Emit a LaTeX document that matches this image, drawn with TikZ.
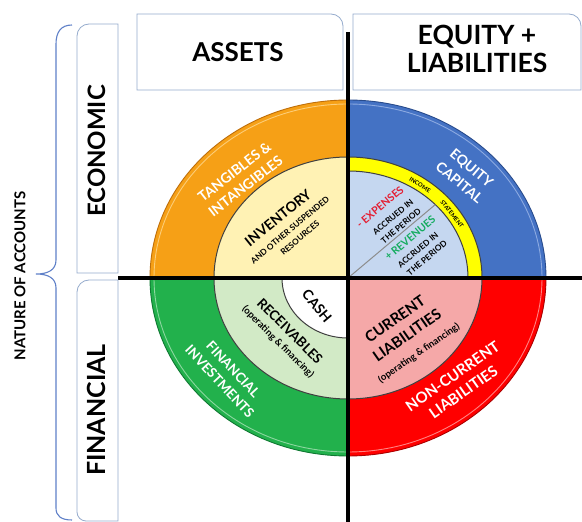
\documentclass[tikz,border=0pt]{standalone}
\usepackage{fontspec}
\setmainfont{Lato}
\definecolor{cOrange}{RGB}{246,160,22}
\definecolor{cOrangeD}{RGB}{190,110,10}
\definecolor{cOrangeL}{RGB}{252,205,120}
\definecolor{cBlue}{RGB}{68,114,196}
\definecolor{cBlueD}{RGB}{40,75,140}
\definecolor{cBlueL}{RGB}{140,170,225}
\definecolor{cGreen}{RGB}{34,177,76}
\definecolor{cGreenD}{RGB}{15,120,50}
\definecolor{cGreenL}{RGB}{140,215,160}
\definecolor{cRed}{RGB}{255,0,0}
\definecolor{cRedD}{RGB}{170,0,0}
\definecolor{cRedL}{RGB}{255,130,130}
\definecolor{cLYellow}{RGB}{255,242,180}
\definecolor{cYellow}{RGB}{255,255,0}
\definecolor{cLBlue}{RGB}{197,215,240}
\definecolor{cLGreen}{RGB}{210,234,198}
\definecolor{cPink}{RGB}{245,168,168}
\definecolor{cExp}{RGB}{228,30,50}
\definecolor{cRev}{RGB}{20,172,95}
\definecolor{cBox}{RGB}{150,172,205}
\definecolor{cBrace}{RGB}{95,128,200}
\newcommand{\fsz}[2]{\fontsize{#1}{#2}\selectfont\bfseries}
\begin{document}
\begin{tikzpicture}[x=1pt,y=1pt,
  lbl/.style={inner sep=0pt,align=center},
  wt/.style={lbl,text=white},
  bk/.style={lbl,text=black},
  hdrbox/.style={draw=cBox,line width=0.8pt,fill=white},
  crossline/.style={line width=4pt,black},
  ringedge/.style={line width=0.9pt},
  inneredge/.style={draw=black!75,line width=1pt}]
\fill[white] (0,0) rectangle (582,522);
\useasboundingbox (0,0) rectangle (582,522);
\coordinate (C) at (348,244);
% ---- outer quadrants
\fill[cOrange] (C) -- (150,244) arc[start angle=180,end angle=90,x radius=198,y radius=178] -- cycle;
\fill[cBlue] (C) -- (348,422) arc[start angle=90,end angle=0,x radius=198,y radius=178] -- cycle;
\fill[cGreen] (C) -- (150,244) arc[start angle=180,end angle=270,x radius=198,y radius=178] -- cycle;
\fill[cRed] (C) -- (546,244) arc[start angle=0,end angle=-90,x radius=198,y radius=178] -- cycle;
% edges and highlights
\draw[ringedge,cOrangeD] (150,244) arc[start angle=180,end angle=90,x radius=198,y radius=178];
\draw[ringedge,cBlueD] (348,422) arc[start angle=90,end angle=0,x radius=198,y radius=178];
\draw[ringedge,cGreenD] (150,244) arc[start angle=180,end angle=270,x radius=198,y radius=178];
\draw[ringedge,cRedD] (546,244) arc[start angle=0,end angle=-90,x radius=198,y radius=178];
\draw[ringedge,cOrangeL] (154,244) arc[start angle=180,end angle=90,x radius=194,y radius=174];
\draw[ringedge,cBlueL] (348,418) arc[start angle=90,end angle=0,x radius=194,y radius=174];
\draw[ringedge,cGreenL] (154,244) arc[start angle=180,end angle=270,x radius=194,y radius=174];
\draw[ringedge,cRedL] (542,244) arc[start angle=0,end angle=-90,x radius=194,y radius=174];
% ---- inner quadrants
\filldraw[fill=cLYellow,inneredge] (C) -- (214,244) arc[start angle=180,end angle=90,x radius=134,y radius=121] -- cycle;
\filldraw[fill=cYellow,inneredge] (C) -- (348,365) arc[start angle=90,end angle=0,x radius=134,y radius=121] -- cycle;
\filldraw[fill=cLBlue,inneredge] (C) -- (348,351) arc[start angle=90,end angle=0,x radius=120,y radius=107] -- cycle;
\filldraw[fill=cLGreen,inneredge] (C) -- (214,244) arc[start angle=180,end angle=270,x radius=134,y radius=121] -- cycle;
\filldraw[fill=white,inneredge] (C) -- (282,244) arc[start angle=180,end angle=270,x radius=66,y radius=60] -- cycle;
\filldraw[fill=cPink,inneredge] (C) -- (482,244) arc[start angle=0,end angle=-90,x radius=134,y radius=121] -- cycle;
\coordinate (divend) at (435.3,317.4);
\draw[black!45,line width=1pt] (C) -- (divend);
% ---- cross lines
\coordinate (hl) at (118,244);
\coordinate (hr) at (582,244);
\coordinate (vt) at (348,490);
\coordinate (vb) at (348,0);
\draw[crossline] (hl) -- (hr);
\draw[crossline] (vt) -- (vb);
% ---- header boxes
\draw[hdrbox] (137,432) -- (137,508) -- (331,508) arc[start angle=90,end angle=0,radius=12] -- (343,432) -- cycle;
\draw[hdrbox] (353,432) -- (353,508) -- (569,508) arc[start angle=90,end angle=0,radius=12] -- (581,432) -- cycle;
\draw[hdrbox] (118,249) -- (118,498) -- (89,498) arc[start angle=90,end angle=180,radius=12] -- (77,249) -- cycle;
\draw[hdrbox] (118,1) -- (118,242) -- (89,242) arc[start angle=90,end angle=180,radius=12] -- (77,10) arc[start angle=180,end angle=270,radius=9] -- cycle;
\node[bk,font=\fsz{26}{28}] (assets) at (238,470) {ASSETS};
\node[bk,font=\fsz{26.5}{28}] (eql) at (477,473.5) {EQUITY +\\LIABILITIES};
\node[bk,rotate=90,font=\fsz{24}{30}] (econ) at (96.5,371) {ECONOMIC};
\node[bk,rotate=90,font=\fsz{25}{30}] (fin) at (96.5,112) {FINANCIAL};
\node[bk,rotate=90,font=\fsz{15}{18}] (nature) at (20,246) {NATURE OF ACCOUNTS};
% ---- brace
\draw[cBrace,line width=1.1pt] (72,497) .. controls (61,497) and (56,490) .. (56,478)
  -- (56,262) .. controls (56,252) and (48,248) .. (36,248)
  .. controls (48,248) and (56,244) .. (56,234)
  -- (56,14) .. controls (56,6) and (61,2) .. (72,2);
% ---- ring texts
\node[wt,rotate=38,font=\fsz{14}{18}] (tang) at (240,343) {TANGIBLES \&\\INTANGIBLES};
\node[bk,rotate=39,font=\fsz{14}{17}] (inv) at (278,304) {INVENTORY};
\node[bk,rotate=40,font=\fsz{8.3}{11}] (invs1) at (290,292) {AND OTHER SUSPENDED};
\node[bk,rotate=40,font=\fsz{8.3}{11}] (invs2) at (300,284) {RESOURCES};
\node[wt,rotate=-40,font=\fsz{14}{19}] (eqcap) at (465.5,347) {EQUITY\\CAPITAL};
\node[bk,rotate=-32,font=\fsz{5.8}{7}] (inc) at (420,337) {INCOME};
\node[bk,rotate=-52,font=\fsz{5.8}{7}] (stat) at (452,308) {STATEMENT};
\node[lbl,text=cExp,rotate=40,font=\fsz{10.5}{12}] (exp) at (380,315) {- EXPENSES};
\node[bk,rotate=40,font=\fsz{8.3}{10}] (exp1) at (393,305) {ACCRUED IN};
\node[bk,rotate=40,font=\fsz{8.3}{10}] (exp2) at (401,296) {THE PERIOD};
\node[lbl,text=cRev,rotate=40,font=\fsz{10.5}{12}] (rev) at (410,284) {+ REVENUES};
\node[bk,rotate=40,font=\fsz{8.3}{10}] (rev1) at (418,272) {ACCRUED IN};
\node[bk,rotate=40,font=\fsz{8.3}{10}] (rev2) at (427,264) {THE PERIOD};
\node[bk,rotate=-50,font=\fsz{14}{16}] (cash) at (317,216) {CASH};
\node[bk,rotate=-45,font=\fsz{13.5}{16}] (rec) at (290,191) {RECEIVABLES};
\node[bk,rotate=-45,font=\fsz{9.6}{12}] (recop) at (278,180) {(operating \& financing)};
\node[wt,rotate=-47,font=\fsz{13.5}{18}] (finv) at (226.5,146.5) {FINANCIAL\\INVESTMENTS};
\node[bk,rotate=35,font=\fsz{15}{18}] (cur1) at (395,203) {CURRENT};
\node[bk,rotate=35,font=\fsz{15}{18}] (cur2) at (407,187) {LIABILITIES};
\node[bk,rotate=35,font=\fsz{9.6}{12}] (curop) at (419,169) {(operating \& financing)};
\node[wt,rotate=35,font=\fsz{15}{19}] (ncl) at (458,138) {NON-CURRENT\\LIABILITIES};
\end{tikzpicture}
\end{document}
